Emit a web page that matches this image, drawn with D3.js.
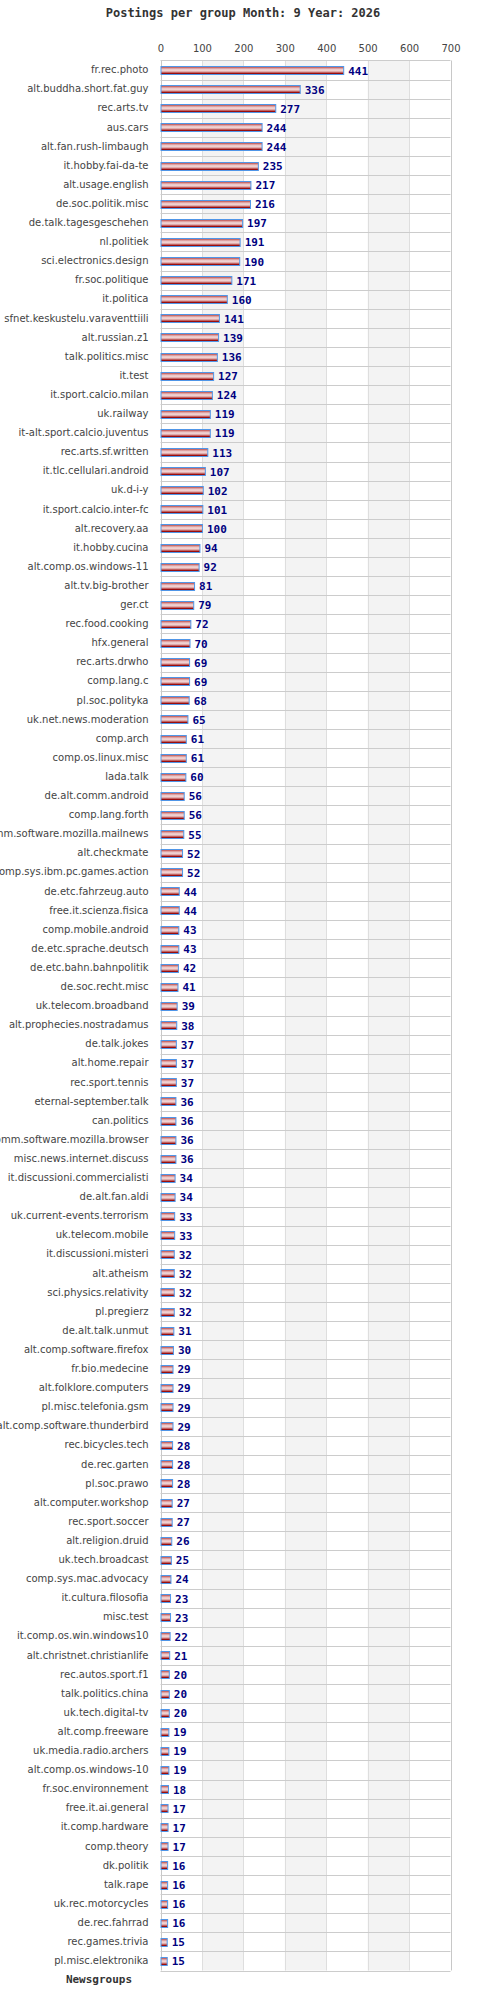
<!DOCTYPE html>
<html><head><meta charset="utf-8">
<script src="https://cdn.jsdelivr.net/npm/d3@7"></script>
<style>body{margin:0;background:#fff}svg{display:block}</style>
</head><body>
<script>
const groups = ["fr.rec.photo","alt.buddha.short.fat.guy","rec.arts.tv","aus.cars","alt.fan.rush-limbaugh","it.hobby.fai-da-te","alt.usage.english","de.soc.politik.misc","de.talk.tagesgeschehen","nl.politiek","sci.electronics.design","fr.soc.politique","it.politica","sfnet.keskustelu.varaventtiili","alt.russian.z1","talk.politics.misc","it.test","it.sport.calcio.milan","uk.railway","it-alt.sport.calcio.juventus","rec.arts.sf.written","it.tlc.cellulari.android","uk.d-i-y","it.sport.calcio.inter-fc","alt.recovery.aa","it.hobby.cucina","alt.comp.os.windows-11","alt.tv.big-brother","ger.ct","rec.food.cooking","hfx.general","rec.arts.drwho","comp.lang.c","pl.soc.polityka","uk.net.news.moderation","comp.arch","comp.os.linux.misc","lada.talk","de.alt.comm.android","comp.lang.forth","alt.comm.software.mozilla.mailnews","alt.checkmate","comp.sys.ibm.pc.games.action","de.etc.fahrzeug.auto","free.it.scienza.fisica","comp.mobile.android","de.etc.sprache.deutsch","de.etc.bahn.bahnpolitik","de.soc.recht.misc","uk.telecom.broadband","alt.prophecies.nostradamus","de.talk.jokes","alt.home.repair","rec.sport.tennis","eternal-september.talk","can.politics","alt.comm.software.mozilla.browser","misc.news.internet.discuss","it.discussioni.commercialisti","de.alt.fan.aldi","uk.current-events.terrorism","uk.telecom.mobile","it.discussioni.misteri","alt.atheism","sci.physics.relativity","pl.pregierz","de.alt.talk.unmut","alt.comp.software.firefox","fr.bio.medecine","alt.folklore.computers","pl.misc.telefonia.gsm","alt.comp.software.thunderbird","rec.bicycles.tech","de.rec.garten","pl.soc.prawo","alt.computer.workshop","rec.sport.soccer","alt.religion.druid","uk.tech.broadcast","comp.sys.mac.advocacy","it.cultura.filosofia","misc.test","it.comp.os.win.windows10","alt.christnet.christianlife","rec.autos.sport.f1","talk.politics.china","uk.tech.digital-tv","alt.comp.freeware","uk.media.radio.archers","alt.comp.os.windows-10","fr.soc.environnement","free.it.ai.general","it.comp.hardware","comp.theory","dk.politik","talk.rape","uk.rec.motorcycles","de.rec.fahrrad","rec.games.trivia","pl.misc.elektronika"];
const postings = [441,336,277,244,244,235,217,216,197,191,190,171,160,141,139,136,127,124,119,119,113,107,102,101,100,94,92,81,79,72,70,69,69,68,65,61,61,60,56,56,55,52,52,44,44,43,43,42,41,39,38,37,37,37,36,36,36,36,34,34,33,33,32,32,32,32,31,30,29,29,29,29,28,28,28,27,27,26,25,24,23,23,22,21,20,20,20,19,19,19,18,17,17,17,16,16,16,16,15,15];
const xTicks = [0,100,200,300,400,500,600,700];
const titleText = "Postings per group Month: 9 Year: 2026";
const yTitle = "Newsgroups";

(function () {
const W = 480, H = 2000;
const pL = 160.5, pR = 450.5, pT = 60.5, pB = 1970.5;
const svg = d3.select("body").append("svg").attr("width", W).attr("height", H);

const x = d3.scaleLinear().domain([0, 700]).range([pL, pR]);
const y = d3.scaleBand().domain(groups).range([pT, pB]).padding(0);

const defs = svg.append("defs");
const g = defs.append("linearGradient").attr("id","barg").attr("x1",0).attr("x2",0).attr("y1",0).attr("y2",1);
[[0,"#a82020"],[0.18,"#d58a8a"],[0.45,"#f6e0e0"],[0.68,"#d89a9a"],[0.85,"#a01010"],[1,"#7a0000"]]
  .forEach(s => g.append("stop").attr("offset", s[0]).attr("stop-color", s[1]));

// alternating bands
for (let i = 0; i < xTicks.length - 1; i++) {
  if (i % 2 === 1) {
    svg.append("rect").attr("x", x(xTicks[i])).attr("y", pT)
      .attr("width", x(xTicks[i+1]) - x(xTicks[i])).attr("height", pB - pT)
      .attr("fill", "#f3f3f3");
  }
}
// vertical grid
svg.append("g").selectAll("line").data(xTicks).join("line")
  .attr("x1", d => Math.round(x(d)) + 0.5).attr("x2", d => Math.round(x(d)) + 0.5)
  .attr("y1", pT).attr("y2", pB)
  .attr("stroke", d => (d === 0 || d === 700) ? "#c8c8c8" : "#dedede").attr("stroke-width", 1);
// horizontal separators
const seps = groups.map(d => y(d)).concat([pB]);
svg.append("g").selectAll("line").data(seps).join("line")
  .attr("x1", pL).attr("x2", pR)
  .attr("y1", d => Math.round(d) + 0.5).attr("y2", d => Math.round(d) + 0.5)
  .attr("stroke", "#cccccc").attr("stroke-width", 1);

// top axis
const ax = svg.append("g").attr("transform", `translate(0,${pT})`)
  .call(d3.axisTop(x).tickValues(xTicks).tickSize(0).tickPadding(9));
ax.select(".domain").remove();
ax.selectAll("text").attr("font-family", "DejaVu Sans").attr("font-size", 10).attr("fill", "#444");

// left labels
const ay = svg.append("g").attr("transform", `translate(${pL},0)`)
  .call(d3.axisLeft(y).tickSize(0).tickPadding(12));
ay.select(".domain").remove();
ay.selectAll("text").attr("font-family", "DejaVu Sans").attr("font-size", 10).attr("fill", "#444");

// bars
const bh = 8;
svg.append("g").selectAll("rect").data(groups).join("rect")
  .attr("x", x(0) + 0.5)
  .attr("y", d => Math.round(y(d) + y.bandwidth() / 2 - bh / 2) + 0.5)
  .attr("width", (d, i) => x(postings[i]) - x(0))
  .attr("height", bh)
  .attr("fill", "url(#barg)")
  .attr("stroke", "#4f96e8").attr("stroke-width", 1);

// value labels
svg.append("g").selectAll("text").data(groups).join("text")
  .attr("x", (d, i) => x(postings[i]) + 5)
  .attr("y", d => y(d) + y.bandwidth() / 2 + 4.5)
  .attr("font-family", "DejaVu Sans Mono").attr("font-weight", "bold").attr("font-size", 11)
  .attr("fill", "#000080")
  .text((d, i) => postings[i]);

// title
svg.append("text").attr("x", 243).attr("y", 17).attr("text-anchor", "middle")
  .attr("font-family", "DejaVu Sans Mono").attr("font-weight", "bold").attr("font-size", 12)
  .attr("fill", "#333").text(titleText);

// y title
svg.append("text").attr("x", 99).attr("y", 1983).attr("text-anchor", "middle")
  .attr("font-family", "DejaVu Sans Mono").attr("font-weight", "bold").attr("font-size", 11)
  .attr("fill", "#333").text(yTitle);
})();
</script>
</body></html>
